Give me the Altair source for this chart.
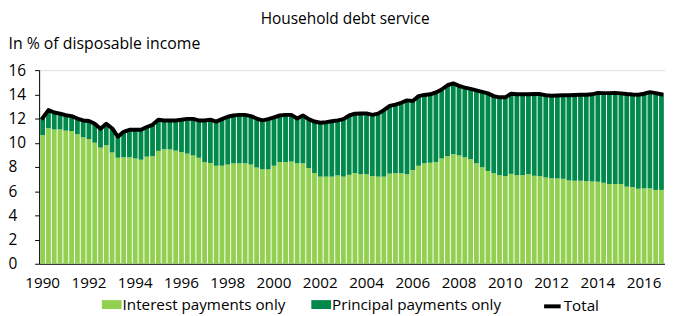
import altair as alt
import pandas as pd

years = list(range(1990, 2017))
quarters = [f"{y}Q{q}" for y in years for q in range(1, 5)]

interest = [
    10.64, 11.2, 11.1, 11.1, 11.0, 10.97, 10.7, 10.45, 10.3, 10.0, 9.6, 9.8, 9.2, 8.76, 8.8, 8.8,
    8.7, 8.6, 8.85, 8.9, 9.33, 9.47, 9.45, 9.35, 9.22, 9.1, 8.95, 8.76, 8.4, 8.33, 8.1, 8.1,
    8.2, 8.3, 8.3, 8.3, 8.2, 7.95, 7.8, 7.8, 8.1, 8.4, 8.4, 8.45, 8.3, 8.3, 7.9, 7.5,
    7.2, 7.2, 7.2, 7.3, 7.2, 7.35, 7.5, 7.4, 7.4, 7.25, 7.2, 7.2, 7.45, 7.48, 7.48, 7.4,
    7.75, 8.1, 8.3, 8.35, 8.4, 8.7, 8.9, 9.05, 8.95, 8.8, 8.65, 8.3, 7.97, 7.67, 7.48, 7.32,
    7.24, 7.43, 7.32, 7.32, 7.4, 7.27, 7.24, 7.13, 7.07, 7.05, 7.02, 6.88, 6.86, 6.86, 6.83, 6.8,
    6.78, 6.69, 6.59, 6.59, 6.59, 6.37, 6.34, 6.2, 6.23, 6.23, 6.1, 6.1,
]

total = [
    12.05, 12.7, 12.5, 12.4, 12.27, 12.2, 12.0, 11.84, 11.8, 11.56, 11.15, 11.56, 11.2, 10.5, 10.9, 11.07,
    11.07, 11.07, 11.3, 11.48, 11.9, 11.84, 11.84, 11.84, 11.9, 11.97, 11.97, 11.84, 11.84, 11.9, 11.75, 11.95,
    12.15, 12.25, 12.3, 12.3, 12.2, 12.0, 11.85, 11.95, 12.1, 12.25, 12.3, 12.3, 12.0, 12.25, 11.95, 11.75,
    11.65, 11.7, 11.78, 11.85, 11.95, 12.25, 12.4, 12.42, 12.42, 12.3, 12.4, 12.7, 13.05, 13.15, 13.3, 13.5,
    13.45, 13.85, 13.95, 14.0, 14.15, 14.4, 14.75, 14.9, 14.7, 14.55, 14.45, 14.33, 14.2, 14.08, 13.85, 13.75,
    13.75, 14.05, 14.0, 14.0, 14.0, 14.02, 14.02, 13.92, 13.88, 13.9, 13.93, 13.93, 13.95, 13.96, 13.97, 14.0,
    14.12, 14.1, 14.1, 14.12, 14.08, 14.02, 13.98, 13.97, 14.05, 14.18, 14.1, 14.0,
]

series_names = ["Interest payments only", "Principal payments only"]
line_name = "Total"
bar_colors = ["#92D050", "#00894A"]
tick_years = [f"{y}Q1" for y in range(1990, 2017, 2)]
y_ticks = list(range(0, 17, 2))

FONT = "Open Sans"

rows = []
for i, q in enumerate(quarters):
    rows.append({"q": q, "series": series_names[0], "value": interest[i], "ord": 0})
    rows.append({"q": q, "series": series_names[1], "value": round(total[i] - interest[i], 3), "ord": 1})
bars_df = pd.DataFrame(rows)
line_df = pd.DataFrame({"q": quarters, "total": total, "label": line_name})

ytitle = "In % of disposable income"

x_axis = alt.Axis(
    values=tick_years,
    labelExpr="substring(datum.value, 0, 4)",
    labelAngle=0,
    ticks=False,
    title=None,
    domainColor="black",
    domainWidth=1,
    labelFontSize=15.4,
    labelFont=FONT,
    labelColor="black",
    labelPadding=12,
)

y_axis = alt.Axis(
    values=y_ticks,
    tickCount=9,
    grid=False,
    title=ytitle,
    titleAngle=0,
    titleX=-31.5,
    titleY=-21.5,
    titleAlign="left",
    titleBaseline="alphabetic",
    titleFontWeight="normal",
    titleFontSize=16,
    titleFont=FONT,
    titleColor="black",
    labelAlign="left",
    labelBaseline="middle",
    labelOverlap=False,
    labelPadding=27,
    labelFontSize=15.6,
    labelFont=FONT,
    labelColor="black",
    tickSize=4.5,
    tickColor="black",
    domainColor="black",
)

y_scale = alt.Scale(domain=[0, 16])
x_scale = alt.Scale(paddingInner=0.17, paddingOuter=0.2)

bars = alt.Chart(bars_df).mark_bar(strokeWidth=0).encode(
    x=alt.X("q:O", sort=quarters, scale=x_scale, axis=x_axis),
    y=alt.Y("value:Q", stack="zero", scale=y_scale, axis=y_axis, title=ytitle),
    color=alt.Color(
        "series:N",
        scale=alt.Scale(domain=series_names, range=bar_colors),
        legend=alt.Legend(
            orient="none",
            legendX=63.5,
            legendY=227,
            direction="horizontal",
            title=None,
            symbolType="M-1,-0.45H1V0.45H-1Z",
            symbolSize=400,
            symbolStrokeWidth=0,
            symbolOpacity=1,
            labelFontSize=15.4,
            labelFont=FONT,
            labelColor="black",
            labelLimit=0,
            labelOffset=1,
            columnPadding=26,
        ),
    ),
    order=alt.Order("ord:Q"),
)

line = alt.Chart(line_df).mark_line(strokeWidth=4, strokeJoin="round", strokeCap="square").encode(
    x=alt.X("q:O", sort=quarters, scale=x_scale, axis=x_axis),
    y=alt.Y("total:Q", scale=y_scale, axis=y_axis, title=ytitle),
    color=alt.Color(
        "label:N",
        scale=alt.Scale(domain=[line_name], range=["black"]),
        legend=alt.Legend(
            orient="none",
            legendX=509,
            legendY=228.6,
            direction="horizontal",
            title=None,
            symbolType="stroke",
            symbolSize=280,
            symbolStrokeWidth=4,
            labelFontSize=15.4,
            labelFont=FONT,
            labelColor="black",
            labelLimit=0,
            labelOffset=1,
        ),
    ),
)

chart = (
    alt.layer(bars, line)
    .resolve_scale(color="independent")
    .properties(
        width=633.5,
        height=196,
        autosize=alt.AutoSizeParams(type="none"),
        padding={"left": 31.5, "top": 61, "right": 0, "bottom": 51},
        title=alt.TitleParams(
            "Household debt service",
            anchor="middle",
            fontSize=15.6,
            fontWeight="normal",
            font=FONT,
            color="black",
            offset=9,
            dx=-7,
        ),
    )
    .configure_view(stroke=None)
    .configure(background="white")
)

chart.save("out.html", embed_options={"renderer": "svg", "actions": False})
